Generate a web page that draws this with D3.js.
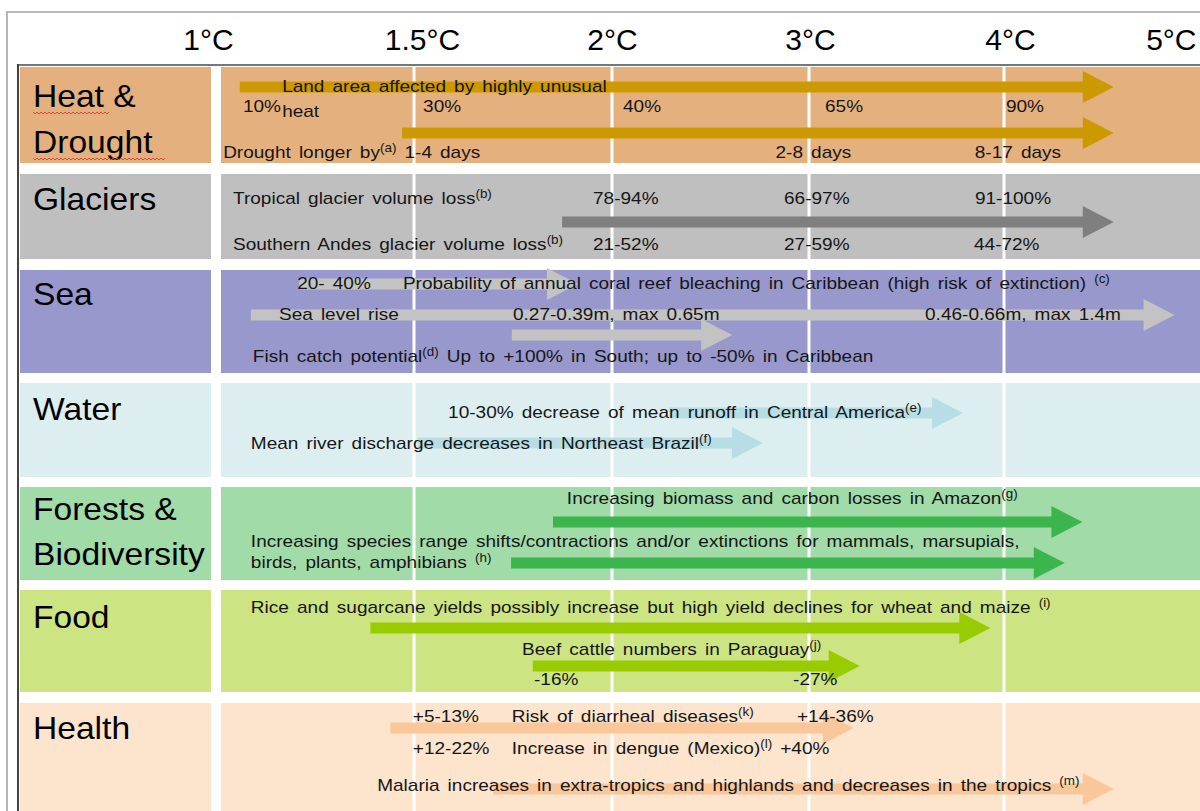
<!DOCTYPE html>
<html><head><meta charset="utf-8">
<script src="https://cdn.jsdelivr.net/npm/d3@7"></script>
<style>
body{margin:0;background:#fff;}
svg{display:block;font-family:"Liberation Sans",Arial,sans-serif;}
</style>
</head><body>
<svg id="c" width="1200" height="811"></svg>
<script>
// ---------- DATA ----------
const tempTicks = [1, 1.5, 2, 3, 4, 5];
const tickLabels = ["1°C", "1.5°C", "2°C", "3°C", "4°C", "5°C"];
const categories = ["Heat & Drought", "Glaciers", "Sea", "Water", "Forests & Biodiversity", "Food", "Health"];
const categoryLines = [["Heat &", "Drought"], ["Glaciers"], ["Sea"], ["Water"], ["Forests &", "Biodiversity"], ["Food"], ["Health"]];

// arrows: category index, text row, start/end warming (°C)
const arrows = [
  {cat: 0, row: 1, from: 1.06, to: 4.56},
  {cat: 0, row: 4, from: 1.47, to: 4.56},
  {cat: 1, row: 1, from: 1.874, to: 4.56},
  {cat: 2, row: 1, from: 1.21, to: 1.914},
  {cat: 2, row: 2, from: 1.088, to: 4.87},
  {cat: 2, row: 4, from: 1.747, to: 2.61},
  {cat: 3, row: 1, from: 2.29, to: 3.79},
  {cat: 3, row: 2, from: 1.51, to: 2.766},
  {cat: 4, row: 1, from: 1.851, to: 4.40},
  {cat: 4, row: 4, from: 1.745, to: 4.31},
  {cat: 5, row: 1, from: 1.39, to: 3.93},
  {cat: 5, row: 3, from: 1.80, to: 3.26},
  {cat: 6, row: 1, from: 1.44, to: 3.23},
  {cat: 6, row: 4, from: 1.70, to: 4.56}
];

// notes: category index, text row, warming level where the text starts (°C)
const notes = [
  {cat: 0, row: 0, at: 1.167, text: "Land area affected by highly unusual"},
  {cat: 0, row: 3, at: 1.167, text: "heat"},
  {cat: 0, row: 2, at: 1.068, text: "10%"},
  {cat: 0, row: 2, at: 1.523, text: "30%"},
  {cat: 0, row: 2, at: 2.056, text: "40%"},
  {cat: 0, row: 2, at: 3.082, text: "65%"},
  {cat: 0, row: 2, at: 4.01, text: "90%"},
  {cat: 0, row: 5, at: 1.018, text: "Drought longer by", sup: "(a)", tail: " 1-4 days"},
  {cat: 0, row: 5, at: 2.83, text: "2-8 days"},
  {cat: 0, row: 5, at: 3.85, text: "8-17 days"},

  {cat: 1, row: 0, at: 1.043, text: "Tropical glacier volume loss", sup: "(b)"},
  {cat: 1, row: 0, at: 1.952, text: "78-94%"},
  {cat: 1, row: 0, at: 2.873, text: "66-97%"},
  {cat: 1, row: 0, at: 3.851, text: "91-100%"},
  {cat: 1, row: 2, at: 1.043, text: "Southern Andes glacier volume loss", sup: "(b)"},
  {cat: 1, row: 2, at: 1.952, text: "21-52%"},
  {cat: 1, row: 2, at: 2.873, text: "27-59%"},
  {cat: 1, row: 2, at: 3.846, text: "44-72%"},

  {cat: 2, row: 0, at: 1.205, text: "20- 40%"},
  {cat: 2, row: 0, at: 1.472, text: "Probability of annual coral reef bleaching in Caribbean (high risk of extinction) ", sup: "(c)"},
  {cat: 2, row: 3, at: 1.159, text: "Sea level rise"},
  {cat: 2, row: 3, at: 1.75, text: "0.27-0.39m, max 0.65m"},
  {cat: 2, row: 3, at: 3.595, text: "0.46-0.66m, max 1.4m"},
  {cat: 2, row: 5, at: 1.093, text: "Fish catch potential", sup: "(d)", tail: " Up to +100% in South; up to -50% in Caribbean"},

  {cat: 3, row: 0, at: 1.586, text: "10-30% decrease of mean runoff in Central America", sup: "(e)"},
  {cat: 3, row: 3, at: 1.088, text: "Mean river discharge decreases in Northeast Brazil", sup: "(f)"},

  {cat: 4, row: 0, at: 1.886, text: "Increasing biomass and carbon losses in Amazon", sup: "(g)"},
  {cat: 4, row: 2, at: 1.088, text: "Increasing species range shifts/contractions and/or extinctions for mammals, marsupials,"},
  {cat: 4, row: 3, at: 1.088, text: "birds, plants, amphibians ", sup: "(h)"},

  {cat: 5, row: 0, at: 1.088, text: "Rice and sugarcane yields possibly increase but high yield declines for wheat and maize ", sup: "(i)"},
  {cat: 5, row: 2, at: 1.773, text: "Beef cattle numbers in Paraguay", sup: "(j)"},
  {cat: 5, row: 4, at: 1.803, text: "-16%"},
  {cat: 5, row: 4, at: 2.919, text: "-27%"},

  {cat: 6, row: 0, at: 1.497, text: "+5-13%"},
  {cat: 6, row: 0, at: 1.747, text: "Risk of diarrheal diseases", sup: "(k)"},
  {cat: 6, row: 0, at: 2.939, text: "+14-36%"},
  {cat: 6, row: 2, at: 1.497, text: "+12-22%"},
  {cat: 6, row: 2, at: 1.747, text: "Increase in dengue (Mexico)", sup: "(l)", tail: " +40%"},
  {cat: 6, row: 3, at: 1.407, text: "Malaria increases in extra-tropics and highlands and decreases in the tropics ", sup: "(m)"}
];

// ---------- LAYOUT / STYLE ----------
const tickX = [216, 414, 612, 809, 1004, 1200];
const tickDx = [-8, 8, 0, 1, 6, -4];
const bandTop = [67, 174, 270, 383, 487, 590, 703];
const bandBottom = [163, 259, 373, 477, 580, 692, 815];
const rowOffsets = [
  [25, 20, 45, 50, 66, 91],
  [30, 48, 76],
  [19, 14, 45, 50, 65, 92],
  [35, 30, 60, 66],
  [17, 35, 60, 81, 76],
  [23, 38, 65, 76, 95],
  [19, 25, 51, 88, 86]
];
const labelOffsets = [[40, 86], [36], [35], [37], [33, 78], [38], [36]];
const bandColors = ["#E4B07E", "#BFBFBF", "#9898CC", "#DDEEF1", "#A0DBA8", "#CDE482", "#FDE4CD"];
const arrowColors = ["#CC9900", "#7F7F7F", "#C3C3C3", "#B6DEE4", "#3DB54F", "#99CC00", "#FAC79B"];
const labelColX = 20;
const squiggles = [[0, 0, 33, 110], [0, 1, 33, 165]]; // [cat, line, x0, x1]

const svg = d3.select("#c");
const x = d3.scaleLinear().domain(tempTicks).range(tickX);
const rowY = (c, r) => bandTop[c] + rowOffsets[c][r];

// frame
svg.append("path").attr("d", "M7,811V12H1200").attr("fill", "none").attr("stroke", "#b8b8b8").attr("stroke-width", 2);
svg.append("path").attr("d", "M1200,65H18").attr("fill", "none").attr("stroke", "#777").attr("stroke-width", 2);
svg.append("path").attr("d", "M18,64V811").attr("fill", "none").attr("stroke", "#444").attr("stroke-width", 2);

// header axis
const ax = svg.append("g").attr("transform", "translate(0,50)")
  .call(d3.axisTop(x).tickValues(tempTicks).tickFormat((d, i) => tickLabels[i]).tickSize(0).tickPadding(0));
ax.select(".domain").remove();
ax.selectAll("text").attr("font-size", 30).attr("fill", "#000")
  .attr("font-family", "'Liberation Sans', Arial, sans-serif")
  .attr("dx", (d, i) => tickDx[i]);
ax.selectAll(".tick").filter(d => d === tempTicks[tempTicks.length - 1])
  .select("text").attr("text-anchor", "end");

// bands
const bands = svg.append("g");
categories.forEach((c, i) => {
  bands.append("rect").attr("x", labelColX).attr("y", bandTop[i])
    .attr("width", x(1) - 5 - labelColX).attr("height", bandBottom[i] - bandTop[i]).attr("fill", bandColors[i]);
  bands.append("rect").attr("x", x(1) + 5).attr("y", bandTop[i])
    .attr("width", x(5) - x(1) - 5).attr("height", bandBottom[i] - bandTop[i]).attr("fill", bandColors[i]);
  tempTicks.filter(t => t > 1 && t < 5).forEach(t => {
    bands.append("line").attr("x1", x(t)).attr("x2", x(t)).attr("y1", bandTop[i]).attr("y2", bandBottom[i])
      .attr("stroke", "#fff").attr("stroke-width", 3);
  });
});

// category labels
const lab = svg.append("g");
categoryLines.forEach((lines, i) => {
  lines.forEach((l, j) => {
    lab.append("text").attr("x", 33).attr("y", bandTop[i] + labelOffsets[i][j])
      .attr("font-size", 32).attr("fill", "#000")
      .attr("transform", `translate(33,0) scale(1.05,1) translate(-33,0)`).text(l);
  });
});
// spell-check squiggles
squiggles.forEach(([c, j, x0, x1]) => {
  const y = bandTop[c] + labelOffsets[c][j] + 5;
  let d = `M${x0},${y}`;
  for (let xx = x0 + 2, k = 0; xx <= x1; xx += 2, k++) d += `L${xx},${y + (k % 2 ? 0 : 2)}`;
  lab.append("path").attr("d", d).attr("fill", "none").attr("stroke", "#e03a3a").attr("stroke-width", 0.9);
});

// arrows
const shaftHalf = 5.5, headHalf = 16, headLen = 31;
svg.append("g").selectAll("path").data(arrows).join("path")
  .attr("d", a => {
    const x0 = x(a.from), x1 = x(a.to), y = rowY(a.cat, a.row), xb = x1 - headLen;
    return `M${x0},${y - shaftHalf}H${xb}V${y - headHalf}L${x1},${y}L${xb},${y + headHalf}V${y + shaftHalf}H${x0}Z`;
  })
  .attr("fill", a => arrowColors[a.cat]);

// notes
const nt = svg.append("g");
notes.forEach(n => {
  const px = x(n.at), py = rowY(n.cat, n.row);
  const t = nt.append("text").attr("x", 0).attr("y", 0)
    .attr("transform", `translate(${px},${py}) scale(1.12,1)`)
    .attr("font-size", 17).attr("fill", "#161616").style("word-spacing", "2.5px")
    .attr("xml:space", "preserve").style("white-space", "pre");
  t.append("tspan").text(n.text);
  if (n.sup) t.append("tspan").attr("font-size", 12).attr("dy", -6).text(n.sup);
  if (n.tail) t.append("tspan").attr("dy", 6).text(n.tail);
});
</script>
</body></html>
